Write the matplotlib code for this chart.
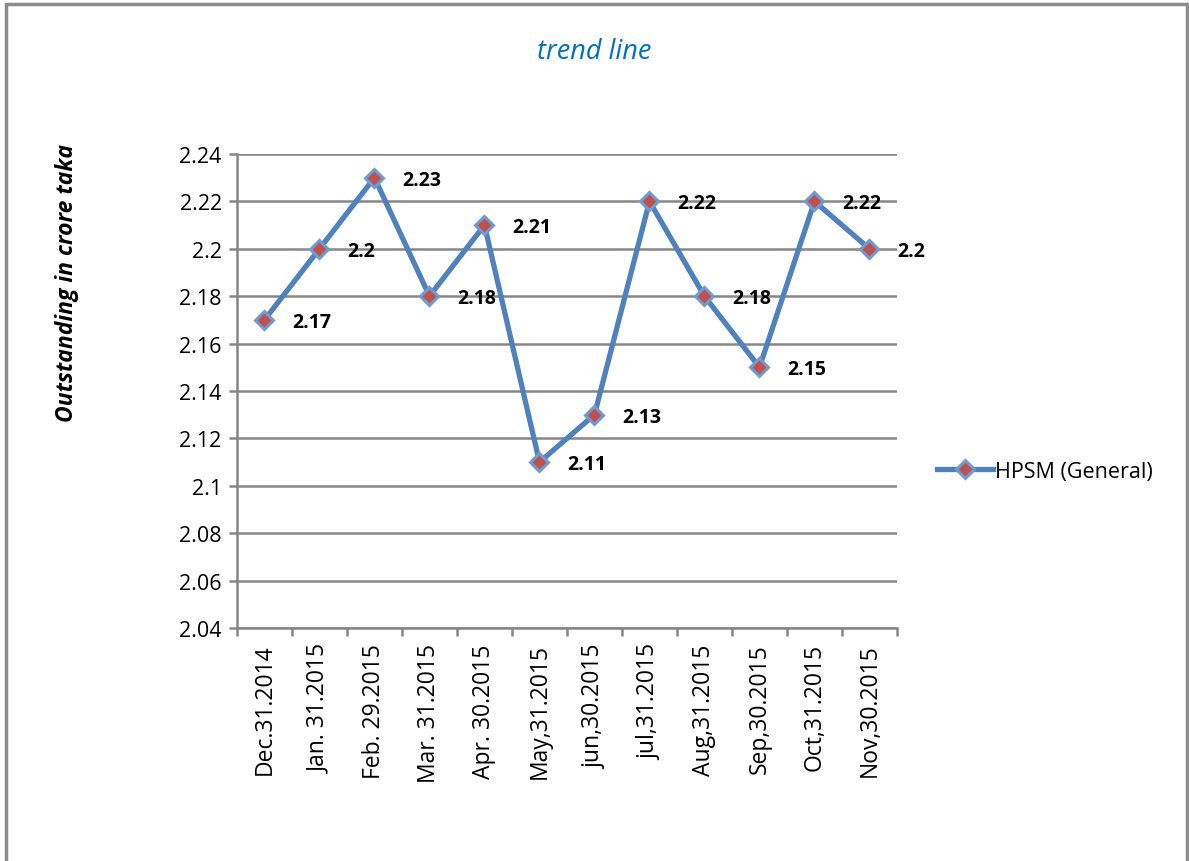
import matplotlib.pyplot as plt
from matplotlib.patches import Rectangle

fechas = ["Dec.31.2014", "Jan. 31.2015", "Feb. 29.2015", "Mar. 31.2015",
          "Apr. 30.2015", "May,31.2015", "jun,30.2015", "jul,31.2015",
          "Aug,31.2015", "Sep,30.2015", "Oct,31.2015", "Nov,30.2015"]
valores = [2.17, 2.20, 2.23, 2.18, 2.21, 2.11, 2.13, 2.22, 2.18, 2.15, 2.22, 2.20]
etiquetas = ["2.17", "2.2", "2.23", "2.18", "2.21", "2.11", "2.13", "2.22",
             "2.18", "2.15", "2.22", "2.2"]
yticks = [2.04, 2.06, 2.08, 2.10, 2.12, 2.14, 2.16, 2.18, 2.20, 2.22, 2.24]
ytick_labels = ["2.04", "2.06", "2.08", "2.1", "2.12", "2.14", "2.16", "2.18",
                "2.2", "2.22", "2.24"]

plt.rcParams['font.family'] = ['Open Sans', 'DejaVu Sans']

fig = plt.figure(figsize=(11.89, 8.62), dpi=100)
ax = fig.add_axes([0.1993, 0.2703, 0.5551, 0.5499])

# marco de la figura (sin borde inferior)
fig.add_artist(Rectangle((0.005, -0.05), 0.9935, 1.044, transform=fig.transFigure,
                         fill=False, edgecolor='#8c8c8c', lw=2.5))

x = list(range(len(fechas)))
ax.plot(x, valores, color='#4F81BD', lw=3.8, marker='D', markersize=9,
        markerfacecolor='#C0504D', markeredgecolor='#6f9bd1', markeredgewidth=2.2,
        label='HPSM (General)', zorder=3)

for xi, v, t in zip(x, valores, etiquetas):
    ax.annotate(t, (xi, v), xytext=(20, -1.5), textcoords='offset points',
                fontsize=14, fontweight='bold', ha='left', va='center')

ax.set_xlim(-0.5, len(fechas) - 0.5)
ax.set_ylim(2.04, 2.24)
ax.set_yticks(yticks)
ax.set_yticklabels(ytick_labels, fontsize=15.5)
ax.set_xticks([i - 0.5 for i in range(len(fechas) + 1)])
ax.set_xticklabels([])
ax.set_xticks(x, minor=True)
ax.set_xticklabels(fechas, minor=True, rotation=90, fontsize=16.5)
ax.tick_params(axis='x', which='minor', length=0, pad=11)
ax.tick_params(axis='x', which='major', length=6, color='#868686', width=1.8)
ax.tick_params(axis='y', length=6, color='#868686', width=1.8, pad=5)

ax.grid(axis='y', color='#868686', lw=1.8)
ax.set_axisbelow(True)
for s in ['top', 'right']:
    ax.spines[s].set_visible(False)
for s in ['left', 'bottom']:
    ax.spines[s].set_color('#868686')
    ax.spines[s].set_linewidth(1.8)

fig.text(0.056, 0.672, "Outstanding in crore taka", fontsize=16.5, fontweight='bold',
         fontstyle='italic', rotation=90, ha='center', va='center')
fig.text(0.4996, 0.94, "trend line", color='#0070C0', fontsize=19.5,
         fontstyle='italic', ha='center', va='center')

fig.legend(loc='center left', bbox_to_anchor=(0.772, 0.452), frameon=False,
           fontsize=15.5, handlelength=2.6, handletextpad=0.1)

plt.savefig("out.png", dpi=100)
